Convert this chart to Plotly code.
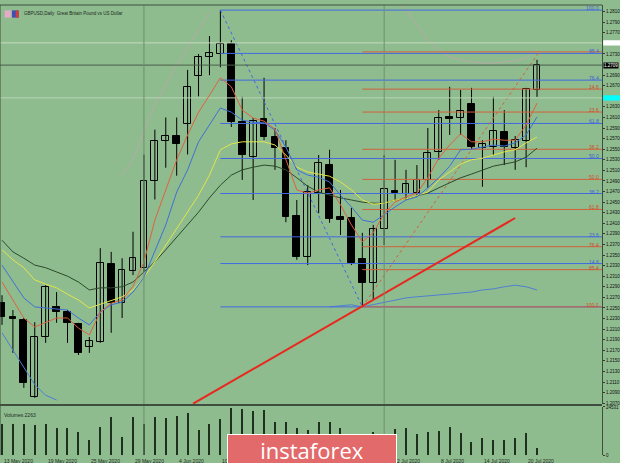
import plotly.graph_objects as go

# ---------------- data (GBPUSD daily, 13 May 2020 .. 21 Jul 2020) ----------------
dates = ["13 May 2020", "19 May 2020", "25 May 2020", "29 May 2020", "4 Jun 2020",
         "10 Jun 2020", "2 Jul 2020", "8 Jul 2020", "14 Jul 2020", "20 Jul 2020"]
date_idx = [0, 4, 8, 12, 16, 20, 36, 40, 44, 48]

opens = [1.2259, 1.2233, 1.2227, 1.2082, 1.2195, 1.2252, 1.2242, 1.2220, 1.2176, 1.2186,
         1.2333, 1.2259, 1.2320, 1.2326, 1.2490, 1.2565, 1.2575, 1.2598, 1.2688, 1.2724,
         1.2730, 1.2749, 1.2601, 1.2535, 1.2607, 1.2573, 1.2552, 1.2424, 1.2346, 1.2467,
         1.2520, 1.2421, 1.2420, 1.2343, 1.2297, 1.2399, 1.2471, 1.2465, 1.2467, 1.2492,
         1.2545, 1.2611, 1.2609, 1.2635, 1.2552, 1.2554, 1.2583, 1.2552, 1.2566, 1.2662]
highs = [1.2274, 1.2246, 1.2231, 1.2223, 1.2293, 1.2280, 1.2246, 1.2222, 1.2195, 1.2363,
         1.2356, 1.2344, 1.2394, 1.2540, 1.2587, 1.2610, 1.2610, 1.2700, 1.2730, 1.2764,
         1.2813, 1.2756, 1.2649, 1.2609, 1.2685, 1.2590, 1.2567, 1.2454, 1.2482, 1.2539,
         1.2549, 1.2473, 1.2439, 1.2392, 1.2407, 1.2539, 1.2530, 1.2511, 1.2520, 1.2590,
         1.2624, 1.2668, 1.2662, 1.2666, 1.2567, 1.2649, 1.2624, 1.2575, 1.2666, 1.2719]
lows = [1.2218, 1.2165, 1.2099, 1.2080, 1.2184, 1.2222, 1.2184, 1.2161, 1.2165, 1.2184,
        1.2203, 1.2231, 1.2312, 1.2318, 1.2455, 1.2515, 1.2500, 1.2540, 1.2650, 1.2690,
        1.2705, 1.2592, 1.2492, 1.2454, 1.2567, 1.2511, 1.2412, 1.2341, 1.2331, 1.2429,
        1.2411, 1.2388, 1.2331, 1.2252, 1.2265, 1.2369, 1.2454, 1.2454, 1.2460, 1.2477,
        1.2530, 1.2577, 1.2577, 1.2549, 1.2479, 1.2539, 1.2520, 1.2511, 1.2516, 1.2649]
closes = [1.2233, 1.2229, 1.2108, 1.2195, 1.2290, 1.2242, 1.2222, 1.2165, 1.2188, 1.2335,
          1.2259, 1.2322, 1.2344, 1.2490, 1.2565, 1.2575, 1.2560, 1.2668, 1.2724, 1.2732,
          1.2749, 1.2601, 1.2539, 1.2603, 1.2573, 1.2552, 1.2422, 1.2346, 1.2469, 1.2524,
          1.2418, 1.2417, 1.2335, 1.2297, 1.2399, 1.2475, 1.2467, 1.2484, 1.2492, 1.2543,
          1.2609, 1.2607, 1.2622, 1.2554, 1.2560, 1.2584, 1.2554, 1.2567, 1.2664, 1.2709]

ma_red = [1.2299, 1.2265, 1.2231, 1.2214, 1.2223, 1.2231, 1.2231, 1.2212, 1.2199, 1.2242,
          1.2259, 1.2265, 1.2291, 1.2337, 1.2416, 1.2473, 1.2530, 1.2577, 1.2620, 1.2652,
          1.2685, 1.2668, 1.2624, 1.2609, 1.2603, 1.2588, 1.2530, 1.2473, 1.2467, 1.2473,
          1.2477, 1.2445, 1.2407, 1.2375, 1.2392, 1.2428, 1.2450, 1.2460, 1.2467, 1.2496,
          1.2533, 1.2558, 1.2579, 1.2564, 1.2564, 1.2569, 1.2567, 1.2567, 1.2596, 1.2637]
ma_blue = [1.2331, 1.2299, 1.2269, 1.2252, 1.2250, 1.2248, 1.2246, 1.2231, 1.2218, 1.2242,
           1.2256, 1.2261, 1.2280, 1.2308, 1.2356, 1.2407, 1.2469, 1.2511, 1.2564, 1.2596,
           1.2628, 1.2620, 1.2605, 1.2601, 1.2600, 1.2586, 1.2554, 1.2511, 1.2501, 1.2497,
           1.2488, 1.2463, 1.2441, 1.2416, 1.2412, 1.2426, 1.2441, 1.2454, 1.2460, 1.2477,
           1.2496, 1.2518, 1.2549, 1.2550, 1.2554, 1.2558, 1.2556, 1.2562, 1.2577, 1.2611]
ma_yellow = [1.2360, 1.2341, 1.2326, 1.2303, 1.2295, 1.2288, 1.2276, 1.2265, 1.2250, 1.2257,
             1.2265, 1.2271, 1.2284, 1.2308, 1.2337, 1.2369, 1.2401, 1.2431, 1.2463, 1.2501,
             1.2549, 1.2560, 1.2564, 1.2564, 1.2564, 1.2558, 1.2539, 1.2516, 1.2507, 1.2503,
             1.2499, 1.2488, 1.2473, 1.2454, 1.2446, 1.2448, 1.2454, 1.2456, 1.2462, 1.2469,
             1.2492, 1.2507, 1.2522, 1.2530, 1.2533, 1.2539, 1.2545, 1.2549, 1.2562, 1.2573]
ma_dark = [1.2378, 1.2356, 1.2344, 1.2331, 1.2326, 1.2318, 1.2310, 1.2299, 1.2284, 1.2288,
           1.2288, 1.2290, 1.2299, 1.2318, 1.2337, 1.2360, 1.2384, 1.2409, 1.2431, 1.2458,
           1.2482, 1.2501, 1.2511, 1.2516, 1.2520, 1.2518, 1.2511, 1.2496, 1.2480, 1.2469,
           1.2463, 1.2458, 1.2454, 1.2450, 1.2448, 1.2448, 1.2454, 1.2456, 1.2462, 1.2467,
           1.2477, 1.2486, 1.2496, 1.2503, 1.2511, 1.2518, 1.2522, 1.2526, 1.2535, 1.2552]

band_upper = [None, None, None, None, None, None, None, None, None, None,
              None, 1.2501, 1.2530, 1.2586, 1.2634, 1.2671, 1.2709, 1.2741, 1.2775, 1.2809,
              None, None, None, None, None, None, None, None, None, None,
              None, None, None, None, None, None, 1.2832, 1.2813, 1.2785, 1.2756,
              1.2738, 1.2724, 1.2719, 1.2715, 1.2713, 1.2713, 1.2715, 1.2717, 1.2722, 1.2738]
band_lower = [1.2203, 1.2171, 1.2137, 1.2105, 1.2085, 1.2076, None, None, None, None,
              None, None, None, None, None, None, None, None, None, None,
              None, None, None, None, None, None, None, None, None, None,
              1.2252, 1.2254, 1.2256, 1.2252, 1.2256, 1.2261, 1.2265, 1.2269, 1.2271, 1.2273,
              1.2275, 1.2276, 1.2278, 1.2280, 1.2284, 1.2286, 1.2290, 1.2293, 1.2290, 1.2284]

volumes = [15841, 15841, 15841, 15330, 15841, 13797, 13797, 11753, 7665, 14308,
           19418, 9198, 19418, 15841, 19418, 18907, 19929, 21462, 12775, 15841,
           18396, 24017, 23506, 22484, 22995, 16863, 16863, 13797, 12775, 16863,
           16863, 13797, 7665, 10220, 11753, 7665, 13286, 13797, 10731, 11753,
           12264, 14308, 11242, 6643, 8687, 7665, 7665, 8687, 11242, 3577]

price_ticks = [1.2070 + 0.0020 * k for k in range(38)]

fib_ratios = [0.0, 14.6, 23.6, 38.2, 50.0, 61.8, 76.4, 85.4, 100.0]
fib_blue_anchor = (20, 1.2813, 33, 1.2252)     # high -> low
fib_red_anchor = (33, 1.2252, 49.2, 1.2734)    # low -> high
trend_line = ([17.5, 47.0], [1.2069, 1.2420])  # red support line
month_separators = [13, 35]
price_current = 1.2709
line_white = 1.2751
line_cyan = 1.2647

# ---------------- figure ----------------
BG = "#8FBC8F"
FONT = "Liberation Sans"
idx = list(range(len(opens)))
fig = go.Figure()

# wicks
wx, wy = [], []
for i in idx:
    wx += [i, i, None]
    wy += [lows[i], highs[i], None]
fig.add_trace(go.Scatter(x=wx, y=wy, mode="lines", line=dict(color="#000000", width=1),
                         hoverinfo="skip"))

# bands
fig.add_trace(go.Scatter(x=idx, y=band_upper, mode="lines", line=dict(color="#b7a9a9", width=1)))
fig.add_trace(go.Scatter(x=idx, y=band_lower, mode="lines", line=dict(color="#4f7fd0", width=1)))

# fibonacci lines
def fib_levels(anchor, top_is_zero):
    x_a, p_a, x_b, p_b = anchor
    hi, lo = max(p_a, p_b), min(p_a, p_b)
    out = []
    for r in fib_ratios:
        if top_is_zero:
            out.append((r, hi - r / 100.0 * (hi - lo)))
        else:
            out.append((r, lo + r / 100.0 * (hi - lo)))
    return out

blue_levels = fib_levels(fib_blue_anchor, False)
red_levels = fib_levels(fib_red_anchor, True)
XMAX = 54.95
for r, p in blue_levels:
    fig.add_trace(go.Scatter(x=[fib_blue_anchor[0], XMAX], y=[p, p], mode="lines",
                             line=dict(color="#4169E1", width=1)))
for r, p in red_levels:
    fig.add_trace(go.Scatter(x=[fib_red_anchor[0], XMAX], y=[p, p], mode="lines",
                             line=dict(color="#d2603a", width=1)))
fig.add_trace(go.Scatter(x=[fib_blue_anchor[0], fib_blue_anchor[2]],
                         y=[fib_blue_anchor[1], fib_blue_anchor[3]], mode="lines",
                         line=dict(color="#4169E1", width=1, dash="dot")))
fig.add_trace(go.Scatter(x=[fib_red_anchor[0], fib_red_anchor[2]],
                         y=[fib_red_anchor[1], fib_red_anchor[3]], mode="lines",
                         line=dict(color="#d2603a", width=1, dash="dot")))

# horizontal helper lines
for p, c in [(line_white, "#c4dabd"), (line_cyan, "#b9d3b4"), (price_current, "#4a5e48")]:
    fig.add_trace(go.Scatter(x=[-1, XMAX], y=[p, p], mode="lines", line=dict(color=c, width=1)))

# moving averages
for arr, col in [(ma_dark, "#2c4a2c"), (ma_yellow, "#e4e44a"), (ma_blue, "#3f6fd6"), (ma_red, "#e0603f")]:
    fig.add_trace(go.Scatter(x=idx, y=arr, mode="lines", line=dict(color=col, width=1)))

# candle bodies
up = [i for i in idx if closes[i] >= opens[i]]
dn = [i for i in idx if closes[i] < opens[i]]
fig.add_trace(go.Bar(x=up, y=[max(closes[i] - opens[i], 0.00008) for i in up],
                     base=[opens[i] for i in up], width=0.62,
                     marker=dict(color="#8FBC8F", line=dict(color="#000000", width=1))))
fig.add_trace(go.Bar(x=dn, y=[max(opens[i] - closes[i], 0.00008) for i in dn],
                     base=[closes[i] for i in dn], width=0.62,
                     marker=dict(color="#000000", line=dict(color="#000000", width=1))))

# trend line
fig.add_trace(go.Scatter(x=trend_line[0], y=trend_line[1], mode="lines",
                         line=dict(color="#e8281e", width=2)))

# volumes
fig.add_trace(go.Bar(x=idx, y=volumes, width=0.1, marker=dict(color="#1e301e", line=dict(width=0)),
                     yaxis="y2"))

shapes = []
for m in month_separators:
    shapes.append(dict(type="line", xref="x", yref="paper", x0=m, x1=m, y0=0, y1=1,
                       line=dict(color="#6f8f6c", width=1)))
shapes.append(dict(type="line", xref="paper", yref="paper", x0=0, x1=1, y0=0.111, y1=0.111,
                   line=dict(color="#3f4f3f", width=2)))
shapes.append(dict(type="line", xref="paper", yref="paper", x0=0, x1=1, y0=1, y1=1,
                   line=dict(color="#3f4f3f", width=1)))
shapes.append(dict(type="line", xref="paper", yref="paper", x0=0, x1=0, y0=0, y1=1,
                   line=dict(color="#3f4f3f", width=1)))
# flag icons next to the title
shapes.append(dict(type="rect", xref="paper", yref="paper", x0=0.008, x1=0.018, y0=0.972, y1=0.988,
                   fillcolor="#e7a9c9", line=dict(width=0)))
shapes.append(dict(type="rect", xref="paper", yref="paper", x0=0.020, x1=0.031, y0=0.972, y1=0.988,
                   fillcolor="#3b4fb8", line=dict(width=0)))
shapes.append(dict(type="rect", xref="paper", yref="paper", x0=0.026, x1=0.031, y0=0.972, y1=0.988,
                   fillcolor="#d33a3a", line=dict(width=0)))
# axis marker boxes for the white and cyan lines
for p, col in [(line_white, "#ffffff"), (line_cyan, "#00ffff")]:
    shapes.append(dict(type="rect", xref="paper", yref="y", x0=1.002, x1=1.03, y0=p - 0.0005, y1=p + 0.0005,
                       fillcolor=col, line=dict(width=0), layer="above"))

annotations = []
annotations.append(dict(xref="paper", yref="paper", x=0.036, y=0.981, xanchor="left", yanchor="middle",
                        text="GBPUSD,Daily  Great Britain Pound vs US Dollar", showarrow=False,
                        font=dict(size=4.5, color="#1b2a1b", family=FONT)))
annotations.append(dict(xref="paper", yref="paper", x=0.004, y=0.1, xanchor="left", yanchor="top",
                        text="Volumes 2263", showarrow=False,
                        font=dict(size=5, color="#1b2a1b", family=FONT)))
for d, i in zip(dates, date_idx):
    annotations.append(dict(xref="x", yref="paper", x=i, y=0, xanchor="left", yanchor="top",
                            text=d, showarrow=False, yshift=-1,
                            font=dict(size=5, color="#1b2a1b", family=FONT)))
for r, p in blue_levels:
    if r == 0.0:
        continue
    annotations.append(dict(xref="paper", yref="y", x=0.998, y=p, xanchor="right", yanchor="bottom",
                            text="%.1f" % r, showarrow=False, yshift=-3,
                            font=dict(size=5, color="#3b5fd9", family=FONT)))
for r, p in red_levels:
    if r == 0.0:
        continue
    annotations.append(dict(xref="paper", yref="y", x=0.998, y=p, xanchor="right", yanchor="bottom",
                            text="%.1f" % r, showarrow=False, yshift=-3,
                            font=dict(size=5, color="#d04a2a", family=FONT)))
annotations.append(dict(xref="paper", yref="y", x=1.002, y=price_current, xanchor="left", yanchor="middle",
                        text="%.4f" % price_current, showarrow=False, bgcolor="#000000", borderpad=0,
                        font=dict(size=4.5, color="#ffffff", family=FONT)))
annotations.append(dict(xref="paper", yref="paper", x=0.519, y=0.0133, xanchor="center", yanchor="middle",
                        text="instaforex", showarrow=False, width=166, height=27,
                        bgcolor="#e36a6a", bordercolor="#ffffff", borderwidth=1,
                        font=dict(size=22, color="#ffffff", family="Open Sans")))

# tick labels hidden under the axis marker boxes are left out
shown_ticks = [t for t in price_ticks
               if min(abs(t - price_current), abs(t - line_white), abs(t - line_cyan)) > 0.0007]

fig.update_layout(
    width=620, height=463,
    margin=dict(l=0, r=18, t=5, b=8),
    paper_bgcolor=BG, plot_bgcolor=BG,
    showlegend=False, hovermode=False, barmode="overlay", bargap=0,
    xaxis=dict(domain=[0, 1], range=[-0.183, XMAX], anchor="y2", showticklabels=False,
               showgrid=False, zeroline=False, showline=False, ticks=""),
    yaxis=dict(domain=[0.1133, 1], range=[1.20684, 1.28226], side="right",
               tickvals=shown_ticks, ticktext=["%.4f" % t for t in shown_ticks],
               tickfont=dict(size=4.5, color="#111111", family=FONT),
               ticks="outside", ticklen=2, tickcolor="#2f3f2f",
               showgrid=False, zeroline=False, showline=True, linecolor="#3f4f3f", linewidth=1),
    yaxis2=dict(domain=[0, 0.1067], range=[0, 24531], side="right",
                tickvals=[0, 24531], ticktext=["0", "24531"],
                tickfont=dict(size=4.5, color="#111111", family=FONT),
                ticks="outside", ticklen=2, tickcolor="#2f3f2f",
                showgrid=False, zeroline=False, showline=True, linecolor="#3f4f3f", linewidth=1),
    shapes=shapes, annotations=annotations,
)

fig.write_html("out.html", config={"displayModeBar": False},
               post_script="document.body.style.margin='0';document.body.style.overflow='hidden';")
